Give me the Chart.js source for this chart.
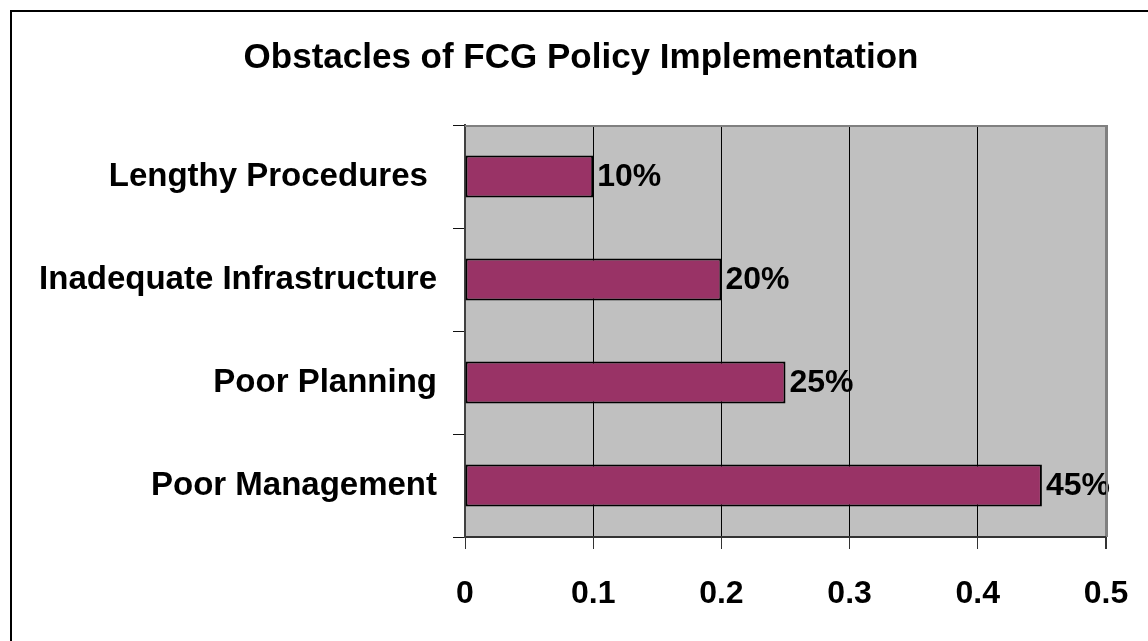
<!DOCTYPE html>
<html>
<head>
<meta charset="utf-8">
<script src="https://cdn.jsdelivr.net/npm/chart.js@4.4.0/dist/chart.umd.min.js"></script>
<style>
  html, body { margin: 0; padding: 0; background: #fff; overflow: hidden; }
  canvas { display: block; }
</style>
</head>
<body>
<canvas id="chart" width="1148" height="641"></canvas>
<script>
"use strict";

const categories = ["Lengthy Procedures ", "Inadequate Infrastructure", "Poor Planning", "Poor Management"];
const shares = [0.10, 0.20, 0.25, 0.45];
const xTicks = [0, 0.1, 0.2, 0.3, 0.4, 0.5];

const FONT = "'Liberation Sans', Arial, sans-serif";

// white page, outer frame and grey plot area
const backdrop = {
    id: "backdrop",
    afterLayout(chart) {
        // title sits a little right of the canvas centre
        if (chart.titleBlock) chart.titleBlock.left += 46;
    },
    beforeDraw(chart) {
        const ctx = chart.ctx;
        const a = chart.chartArea;
        ctx.save();
        ctx.fillStyle = "#fff";
        ctx.fillRect(0, 0, chart.width, chart.height);
        ctx.strokeStyle = "#000";
        ctx.lineWidth = 2;
        ctx.strokeRect(11, 11, chart.width + 20, chart.height + 20);
        ctx.fillStyle = "#C0C0C0";
        ctx.fillRect(a.left, a.top, a.right - a.left, a.bottom - a.top);
        ctx.restore();
    },
    afterDraw(chart) {
        const ctx = chart.ctx;
        const a = chart.chartArea;
        ctx.save();
        ctx.strokeStyle = "#808080";
        ctx.lineWidth = 2;
        ctx.beginPath();
        ctx.moveTo(a.left, a.top + 1);
        ctx.lineTo(a.right + 1, a.top + 1);
        ctx.lineTo(a.right + 1, a.bottom);
        ctx.stroke();
        ctx.restore();
    }
};

// percent labels to the right of each bar
const valueLabels = {
    id: "valueLabels",
    afterDatasetsDraw(chart) {
        const ctx = chart.ctx;
        const meta = chart.getDatasetMeta(0);
        ctx.save();
        ctx.font = "bold 32px " + FONT;
        ctx.fillStyle = "#000";
        ctx.textAlign = "left";
        ctx.textBaseline = "middle";
        meta.data.forEach((bar, i) => {
            ctx.fillText(Math.round(shares[i] * 100) + "%", bar.x + 4, bar.y + 1);
        });
        ctx.restore();
    }
};

new Chart(document.getElementById("chart"), {
    type: "bar",
    data: {
        labels: categories,
        datasets: [{
            data: shares,
            backgroundColor: "#993366",
            borderColor: "#000",
            borderWidth: 2,
            borderSkipped: false,
            categoryPercentage: 1,
            barPercentage: 0.41
        }]
    },
    options: {
        indexAxis: "y",
        responsive: false,
        animation: false,
        devicePixelRatio: 1,
        layout: { padding: { left: 10, right: 42, top: 0, bottom: 0 } },
        plugins: {
            legend: { display: false },
            tooltip: { enabled: false },
            title: {
                display: true,
                text: "Obstacles of FCG Policy Implementation",
                color: "#000",
                font: { family: FONT, size: 35, weight: "bold" },
                padding: { top: 37, bottom: 46 }
            }
        },
        scales: {
            x: {
                min: 0,
                max: 0.5,
                afterBuildTicks(scale) {
                    scale.ticks = xTicks.map(v => ({ value: v }));
                },
                afterFit(scale) {
                    scale.height = 104;
                    scale.paddingLeft = 0;
                    scale.paddingRight = 0;
                },
                border: { display: true, color: "#333", width: 2 },
                grid: {
                    color: c => (c.tick && c.tick.value >= 0.5 ? "#808080" : "#000"),
                    lineWidth: c => (c.tick && c.tick.value >= 0.5 ? 2 : 1),
                    tickColor: "#333",
                    tickLength: 12,
                    drawTicks: true
                },
                ticks: {
                    color: "#000",
                    font: { family: FONT, size: 32, weight: "bold" },
                    padding: 26,
                    maxRotation: 0,
                    callback: v => String(v)
                }
            },
            y: {
                afterFit(scale) {
                    scale.width = 455;
                    scale.paddingTop = 0;
                    scale.paddingBottom = 0;
                },
                border: { display: true, color: "#404040", width: 2 },
                grid: {
                    offset: true,
                    drawOnChartArea: false,
                    drawTicks: true,
                    tickLength: 12,
                    color: "#111"
                },
                ticks: {
                    color: "#000",
                    font: { family: FONT, size: 33, weight: "bold" },
                    padding: 16
                }
            }
        }
    },
    plugins: [backdrop, valueLabels]
});
</script>
</body>
</html>
